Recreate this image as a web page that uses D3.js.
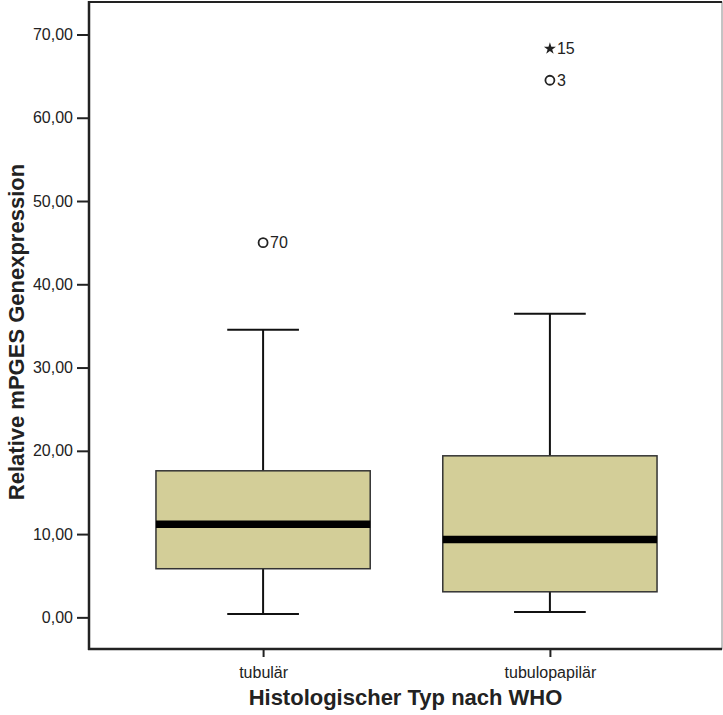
<!DOCTYPE html>
<html>
<head>
<meta charset="utf-8">
<script src="https://cdn.jsdelivr.net/npm/d3@7"></script>
<style>
  body { margin: 0; background: #fff; }
  svg text { font-family: "Liberation Sans", Arial, sans-serif; fill: #222; }
  .axis-title { font-weight: bold; font-size: 22px; }
  .tick text { font-size: 16px; }
</style>
</head>
<body>
<svg id="chart"></svg>
<script>
var categories = ["tubulär", "tubulopapilär"];
var whiskerLow = [0.40, 0.64],
    q1 = [5.84, 3.07],
    median = [11.17, 9.36],
    q3 = [17.6, 19.4],
    whiskerHigh = [34.53, 36.45];

// outliers (circle) and extremes (star)
var outlierCats = ["tubulär", "tubulopapilär", "tubulopapilär"],
    outlierValues = [45.0, 64.5, 68.3],
    outlierLabels = ["70", "3", "15"],
    outlierKinds = ["circle", "circle", "star"];

var yTicks = [0, 10, 20, 30, 40, 50, 60, 70];

var W = 723, H = 715;
var margin = {top: 2, right: 1, bottom: 66, left: 89};
var width = W - margin.left - margin.right,
    height = H - margin.top - margin.bottom;

var fill = "#d3ce98";

var svg = d3.select("#chart")
  .attr("width", W)
  .attr("height", H)
  .append("g")
    .attr("transform", "translate(" + margin.left + "," + margin.top + ")");

var x = d3.scalePoint().domain(categories).range([2, width]).padding(0.6);
var y = d3.scaleLinear().domain([-3.8, 73.9]).range([height, 0]);

var step = x.step();
var boxW = step * 0.747,
    capW = step * 0.25;

//Frame: thin gray top/right, dark left/bottom drawn below
svg.append("rect")
  .attr("x", 0).attr("y", 0)
  .attr("width", width).attr("height", height)
  .style("fill", "none")
  .style("stroke", "#888")
  .style("stroke-width", 1);

svg.append("line")
  .attr("x1", 0).attr("x2", width)
  .attr("y1", 0).attr("y2", 0)
  .style("stroke", "#222").style("stroke-width", 2);

//Y axis
var fmt = function(d){ return d3.format(".2f")(d).replace(".", ","); };
var yAxis = svg.append("g")
  .call(d3.axisLeft(y).tickValues(yTicks).tickFormat(fmt).tickSize(12).tickPadding(4));
yAxis.select(".domain").remove();
yAxis.selectAll(".tick line").style("stroke", "#222").style("stroke-width", 2);

//X axis
var xAxis = svg.append("g")
  .attr("transform", "translate(0," + height + ")")
  .call(d3.axisBottom(x).tickSize(8).tickPadding(10));
xAxis.select(".domain").remove();
xAxis.selectAll(".tick line").style("stroke", "#222").style("stroke-width", 2);

svg.append("line")
  .attr("x1", 0).attr("x2", 0)
  .attr("y1", -1).attr("y2", height + 1)
  .style("stroke", "#222").style("stroke-width", 2.5);
svg.append("line")
  .attr("x1", -1).attr("x2", width)
  .attr("y1", height).attr("y2", height)
  .style("stroke", "#222").style("stroke-width", 2.5);

//Axis titles
svg.append("text")
  .attr("class", "axis-title")
  .attr("text-anchor", "middle")
  .attr("x", width / 2)
  .attr("y", H - margin.top - 10)
  .text("Histologischer Typ nach WHO");

svg.append("text")
  .attr("class", "axis-title")
  .attr("text-anchor", "middle")
  .attr("transform", "rotate(-90)")
  .attr("x", -330)
  .attr("y", -margin.left + 24)
  .text("Relative mPGES Genexpression");

//Boxes
var idx = d3.range(categories.length);
var g = svg.selectAll(".box").data(idx).enter().append("g").attr("class", "box");

g.append("line")
  .attr("x1", function(i){ return x(categories[i]); })
  .attr("x2", function(i){ return x(categories[i]); })
  .attr("y1", function(i){ return y(whiskerHigh[i]); })
  .attr("y2", function(i){ return y(whiskerLow[i]); })
  .style("stroke", "#111").style("stroke-width", 2);

g.selectAll(".cap").data(function(i){ return [[i, whiskerLow[i]], [i, whiskerHigh[i]]]; })
  .enter().append("line")
  .attr("x1", function(d){ return x(categories[d[0]]) - capW / 2; })
  .attr("x2", function(d){ return x(categories[d[0]]) + capW / 2; })
  .attr("y1", function(d){ return y(d[1]); })
  .attr("y2", function(d){ return y(d[1]); })
  .style("stroke", "#111").style("stroke-width", 2);

g.append("rect")
  .attr("x", function(i){ return x(categories[i]) - boxW / 2; })
  .attr("y", function(i){ return y(q3[i]); })
  .attr("width", boxW)
  .attr("height", function(i){ return y(q1[i]) - y(q3[i]); })
  .style("fill", fill)
  .style("stroke", "#333")
  .style("stroke-width", 1.5);

g.append("line")
  .attr("x1", function(i){ return x(categories[i]) - boxW / 2; })
  .attr("x2", function(i){ return x(categories[i]) + boxW / 2; })
  .attr("y1", function(i){ return y(median[i]); })
  .attr("y2", function(i){ return y(median[i]); })
  .style("stroke", "#000").style("stroke-width", 7.5);

//Outliers
var oi = d3.range(outlierValues.length);
var og = svg.selectAll(".outlier").data(oi).enter().append("g")
  .attr("class", "outlier")
  .attr("transform", function(i){ return "translate(" + x(outlierCats[i]) + "," + y(outlierValues[i]) + ")"; });

og.filter(function(i){ return outlierKinds[i] === "circle"; })
  .append("circle")
  .attr("r", 4.5)
  .style("fill", "#fff")
  .style("stroke", "#222")
  .style("stroke-width", 1.8);

og.filter(function(i){ return outlierKinds[i] === "star"; })
  .append("path")
  .attr("d", d3.symbol().type(d3.symbolStar).size(45))
  .style("fill", "#222");

og.append("text")
  .attr("x", 7)
  .attr("dy", "0.36em")
  .style("font-size", "16px")
  .text(function(i){ return outlierLabels[i]; });
</script>
</body>
</html>
